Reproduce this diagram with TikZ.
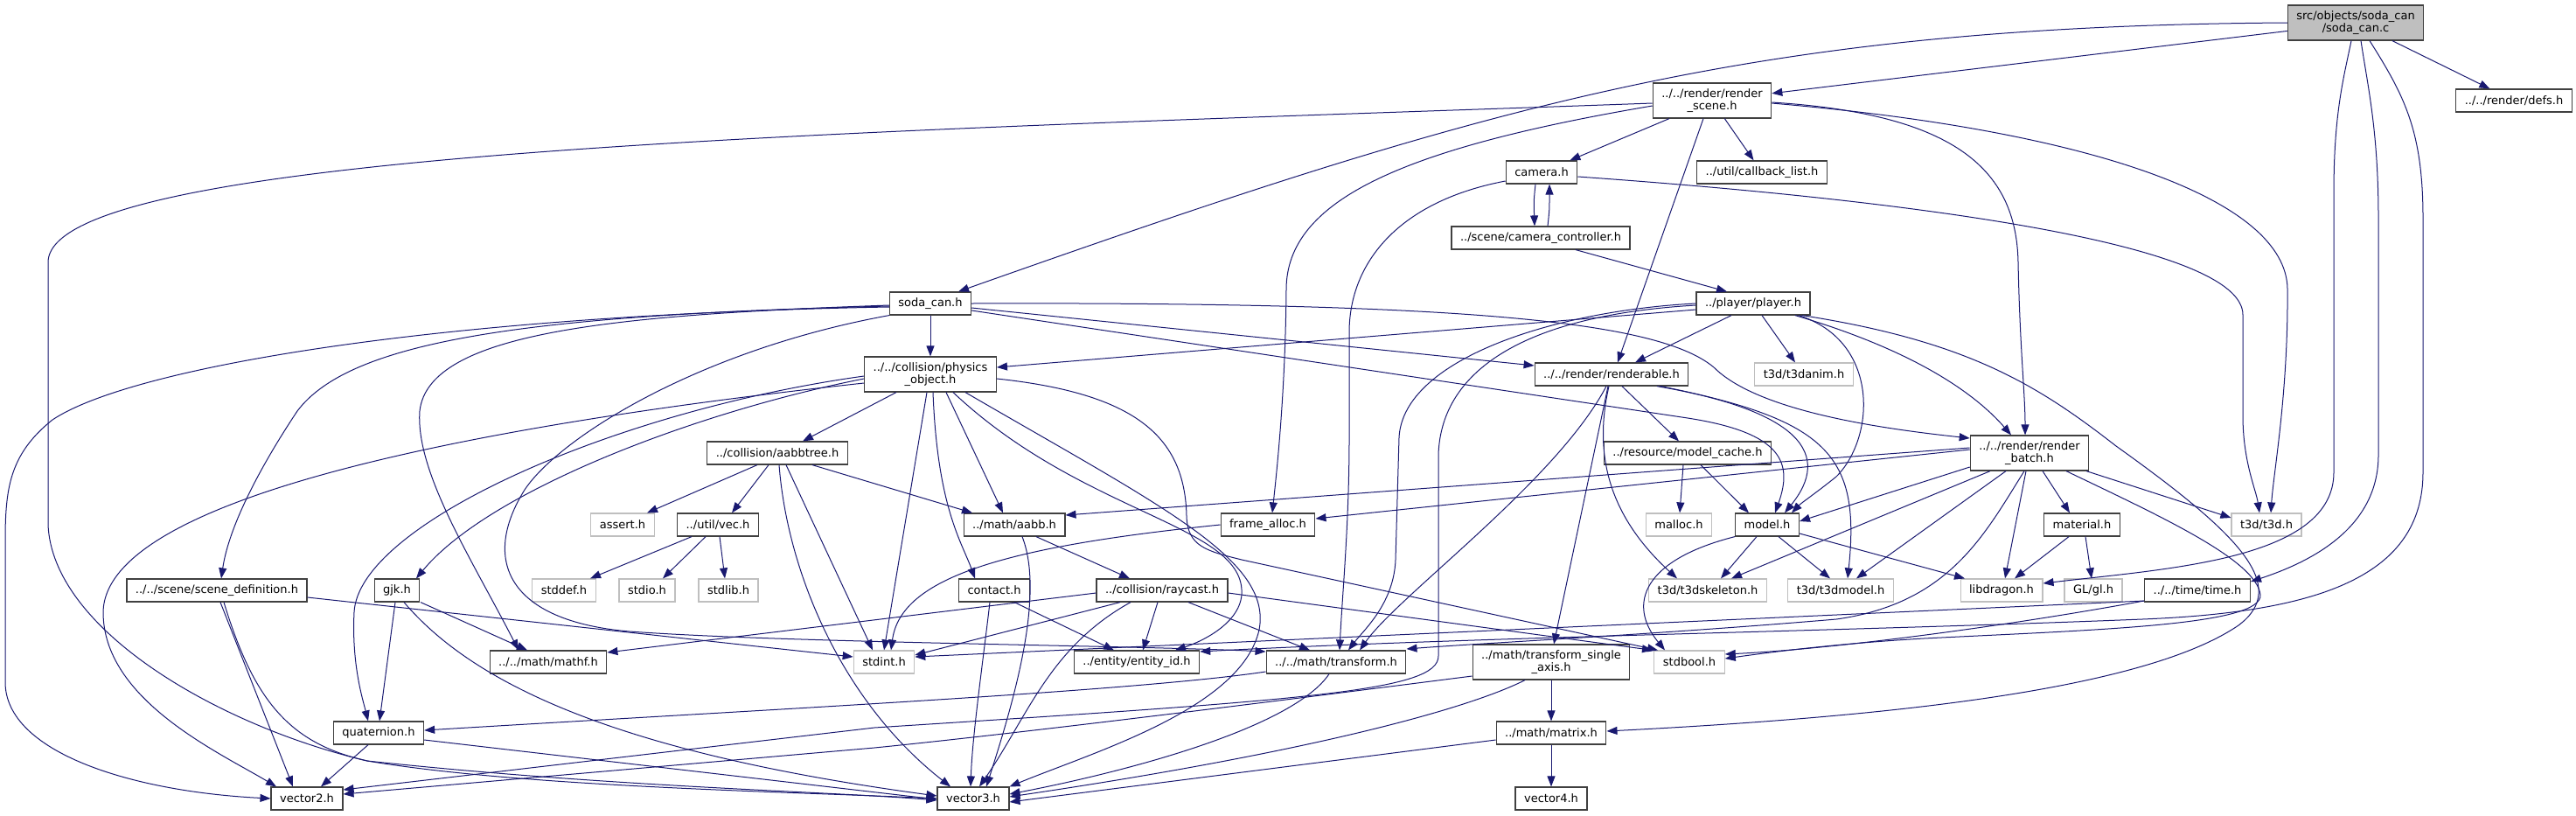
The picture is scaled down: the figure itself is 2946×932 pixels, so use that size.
\documentclass[tikz,border=0pt]{standalone}
\usepackage{fontspec}
\setmainfont{DejaVu Sans}
\usetikzlibrary{arrows.meta,positioning}
\definecolor{inclblue}{RGB}{25,25,112}
\definecolor{boxline}{RGB}{64,64,64}
\definecolor{sysline}{RGB}{191,191,191}
\definecolor{rootfill}{RGB}{191,191,191}

\begin{document}
\begin{tikzpicture}[x=1pt,y=-1pt,
  hdr/.style={draw=boxline, fill=white, line width=1.2pt, minimum height=26pt, inner xsep=10pt, inner ysep=0pt, align=center, font=\fontsize{13}{14.5}\selectfont},
  hdrtwo/.style={hdr, minimum height=40pt},
  sys/.style={hdr, draw=sysline},
  incl/.style={draw=inclblue, line width=1pt, -{Triangle[length=12pt,width=9pt]}}]
\useasboundingbox (0,0) rectangle (2946,932);

\node[hdrtwo, fill=rootfill] (root) at (2694,26) {src/objects/soda\_can\\/soda\_can.c};
\node[hdrtwo] (scene) at (1958,115) {../../render/render\\\_scene.h};
\node[hdr] (defs) at (2875,115) {../../render/defs.h};
\node[hdr] (cblist) at (2015,197) {../util/callback\_list.h};
\node[hdr] (camera) at (1763,197) {camera.h};
\node[hdr] (camctl) at (1762,272) {../scene/camera\_controller.h};
\node[hdr] (player) at (2005,347) {../player/player.h};
\node[sys] (anim) at (2063,428) {t3d/t3danim.h};
\node[hdr] (sodah) at (1064,347) {soda\_can.h};
\node[hdrtwo] (physobj) at (1064,428) {../../collision/physics\\\_object.h};
\node[hdr] (renderable) at (1843,428) {../../render/renderable.h};
\node[hdrtwo] (batch) at (2321,518) {../../render/render\\\_batch.h};
\node[hdr] (mcache) at (1930,518) {../resource/model\_cache.h};
\node[hdr] (aabbtree) at (889,518) {../collision/aabbtree.h};
\node[sys] (assert) at (712,600) {assert.h};
\node[hdr] (vec) at (821,600) {../util/vec.h};
\node[hdr] (aabb) at (1160,600) {../math/aabb.h};
\node[hdr] (falloc) at (1450,600) {frame\_alloc.h};
\node[sys] (malloc) at (1920,600) {malloc.h};
\node[hdr] (model) at (2021,600) {model.h};
\node[hdr] (material) at (2381,600) {material.h};
\node[sys] (t3d) at (2592,600) {t3d/t3d.h};
\node[hdr] (scenedef) at (248,675) {../../scene/scene\_definition.h};
\node[hdr] (gjk) at (454,675) {gjk.h};
\node[sys] (stddef) at (645,675) {stddef.h};
\node[sys] (stdio) at (740,675) {stdio.h};
\node[sys] (stdlib) at (833,675) {stdlib.h};
\node[hdr] (contact) at (1137,675) {contact.h};
\node[hdr] (raycast) at (1329,675) {../collision/raycast.h};
\node[sys] (skeleton) at (1953,675) {t3d/t3dskeleton.h};
\node[sys] (t3dmodel) at (2105,675) {t3d/t3dmodel.h};
\node[sys] (libdragon) at (2289,675) {libdragon.h};
\node[sys] (gl) at (2394,675) {GL/gl.h};
\node[hdr] (time) at (2513,675) {../../time/time.h};
\node[hdr] (mathf) at (627,757) {../../math/mathf.h};
\node[sys] (stdint) at (1011,757) {stdint.h};
\node[hdr] (entity) at (1300,757) {../entity/entity\_id.h};
\node[hdr] (transform) at (1528,757) {../../math/transform.h};
\node[hdrtwo] (single) at (1774,757) {../math/transform\_single\\\_axis.h};
\node[sys] (stdbool) at (1932,757) {stdbool.h};
\node[hdr] (quat) at (433,838) {quaternion.h};
\node[hdr] (matrix) at (1774,838) {../math/matrix.h};
\node[hdr] (vec2) at (351,913) {vector2.h};
\node[hdr] (vec3) at (1113,913) {vector3.h};
\node[hdr] (vec4) at (1774,913) {vector4.h};

\draw[incl] (root) -- (scene);
\draw[incl] (root) -- (defs);
\draw[incl] (root.west) .. controls (2000,30) and (1700,120) .. ([xshift=32pt]sodah.north);
\draw[incl] ([xshift=-5pt]root.south) .. controls (2680,90) and (2669,130) .. (2669,220) -- (2669,540) .. controls (2669,640) and (2480,650) .. ([yshift=8pt]libdragon.east);
\draw[incl] ([xshift=6pt]root.south) .. controls (2708,100) and (2720,150) .. (2720,250) -- (2720,520) .. controls (2720,600) and (2650,640) .. ([yshift=10pt]time.east);
\draw[incl] ([xshift=16pt]root.south) .. controls (2750,110) and (2771,150) .. (2771,250) -- (2771,540) .. controls (2771,660) and (2650,700) .. (2450,708) .. controls (2100,722) and (1700,728) .. ([yshift=12pt]entity.east);

\draw[incl] (scene) -- (camera);
\draw[incl] (scene) -- (cblist);
\draw[incl] ([xshift=-10pt]scene.south) -- ([xshift=7pt]renderable.north);
\draw[incl] ([yshift=-2pt]scene.east) .. controls (2230,130) and (2306,190) .. (2308,300) .. controls (2310,400) and (2316,450) .. ([xshift=-5pt]batch.north);
\draw[incl] ([yshift=-3pt]scene.east) .. controls (2400,150) and (2614,230) .. (2616,330) .. controls (2617,450) and (2600,540) .. ([xshift=5pt]t3d.north);
\draw[incl] ([yshift=-6pt]scene.west) .. controls (1600,170) and (1472,230) .. (1471,330) .. controls (1470,450) and (1460,540) .. ([xshift=5pt]falloc.north);
\draw[incl] ([yshift=-3pt]scene.west) .. controls (1000,150) and (55,170) .. (55,300) -- (55,600) .. controls (60,720) and (250,830) .. (420,870) .. controls (600,900) and (900,905) .. (vec3.west);

\draw[incl] ([xshift=-7pt]camera.south) .. controls (1754,230) .. ([xshift=-7pt]camctl.north);
\draw[incl] ([xshift=8pt]camctl.north) .. controls (1772,240) .. ([xshift=9pt]camera.south);
\draw[incl] ([yshift=-10pt]camera.west) .. controls (1600,230) and (1543,300) .. (1543,380) -- (1543,500) .. controls (1543,600) and (1535,680) .. ([xshift=4pt]transform.north);
\draw[incl] ([yshift=-5pt]camera.east) .. controls (2200,230) and (2565,280) .. (2565,360) -- (2565,480) .. controls (2566,530) and (2580,560) .. ([xshift=-8pt]t3d.north);
\draw[incl] ([xshift=40pt]camctl.south) -- ([xshift=-30pt]player.north);

\draw[incl] (sodah) -- (physobj);
\draw[incl] ([yshift=-5pt]sodah.east) -- ([yshift=10pt]renderable.west);
\draw[incl] ([yshift=-8pt]sodah.east) -- (1930,478) .. controls (2040,495) and (2050,530) .. ([xshift=9pt]model.north);
\draw[incl] (sodah.east) .. controls (1700,345) and (1900,370) .. (1960,420) .. controls (2010,470) and (2150,490) .. ([yshift=17pt]batch.west);
\draw[incl] ([yshift=-3pt]sodah.west) .. controls (600,360) and (400,390) .. (340,470) .. controls (300,530) and (262,600) .. ([xshift=5pt]scenedef.north);
\draw[incl] ([yshift=-2pt]sodah.west) .. controls (700,360) and (490,380) .. (480,470) .. controls (475,540) and (540,640) .. ([xshift=-34pt]mathf.north);
\draw[incl] ([yshift=-4pt]sodah.west) .. controls (500,360) and (150,420) .. (60,480) .. controls (10,520) and (6,560) .. (6,620) -- (6,780) .. controls (6,860) and (150,905) .. (vec2.west);
\draw[incl] (sodah.south west) .. controls (800,400) and (640,500) .. (600,560) .. controls (550,640) and (580,710) .. (720,722) .. controls (900,735) and (1300,738) .. ([yshift=12pt]transform.west);

\draw[incl] ([xshift=-39pt]physobj.south) -- ([xshift=29pt]aabbtree.north);
\draw[incl] ([yshift=-5pt]physobj.west) .. controls (800,470) and (560,560) .. ([xshift=22pt]gjk.north);
\draw[incl] ([yshift=-2pt]physobj.west) .. controls (700,470) and (410,600) .. (405,700) .. controls (402,760) and (415,800) .. ([xshift=-12pt]quat.north);
\draw[incl] ([yshift=-10pt]physobj.west) .. controls (600,480) and (120,560) .. (118,700) .. controls (118,800) and (250,860) .. ([xshift=-35pt]vec2.north);
\draw[incl] ([xshift=-4pt]physobj.south) -- (stdint.north);
\draw[incl] ([xshift=3pt]physobj.south) .. controls (1072,580) and (1100,620) .. ([xshift=-22pt]contact.north);
\draw[incl] ([xshift=18pt]physobj.south) -- ([xshift=-13pt]aabb.north);
\draw[incl] ([xshift=26pt]physobj.south) .. controls (1240,590) and (1425,600) .. (1420,680) .. controls (1417,715) and (1370,735) .. ([xshift=44pt]entity.north);
\draw[incl] ([xshift=40pt]physobj.south) .. controls (1330,580) and (1455,640) .. (1440,720) .. controls (1420,810) and (1250,860) .. (vec3.north east);
\draw[incl] ([yshift=-5pt]physobj.east) .. controls (1300,450) and (1355,500) .. (1357,590) .. controls (1358,625) and (1380,630) .. (1420,640) -- ([xshift=-36pt]stdbool.north);

\draw[incl] ([xshift=12pt]renderable.south) -- ([xshift=-10pt]mcache.north);
\draw[incl] ([xshift=-6pt]renderable.south) .. controls (1780,550) and (1600,680) .. ([xshift=27pt]transform.north);
\draw[incl] ([xshift=-4pt]renderable.south) -- ([xshift=3pt]single.north);
\draw[incl] ([xshift=-3pt]renderable.south) .. controls (1822,520) and (1840,590) .. ([xshift=-35pt]skeleton.north);
\draw[incl] ([xshift=52pt]renderable.south) .. controls (2060,470) and (2095,520) .. ([xshift=20pt]model.north);
\draw[incl] ([xshift=56pt]renderable.south) .. controls (2090,480) and (2128,520) .. ([xshift=8pt]t3dmodel.north);

\draw[incl] ([xshift=-25pt]player.south) -- ([xshift=27pt]renderable.north);
\draw[incl] ([xshift=10pt]player.south) -- ([xshift=-10pt]anim.north);
\draw[incl] ([yshift=-7pt]player.west) -- ([yshift=8pt]physobj.east);
\draw[incl] ([xshift=48pt]player.south) .. controls (2170,395) and (2250,440) .. ([xshift=-21pt]batch.north);
\draw[incl] ([xshift=52pt]player.south) .. controls (2150,390) and (2145,500) .. (2100,545) .. controls (2075,565) and (2060,575) .. ([xshift=28pt]model.north);
\draw[incl] (player.west) .. controls (1780,355) and (1605,410) .. (1600,500) -- (1596,640) .. controls (1594,690) and (1560,720) .. ([xshift=14pt]transform.north);
\draw[incl] ([yshift=-2pt]player.west) .. controls (1750,360) and (1648,420) .. (1645,520) -- (1645,750) .. controls (1645,790) and (1500,800) .. (1000,832) -- ([yshift=10pt]vec2.east);
\draw[incl] ([xshift=56pt]player.south) .. controls (2250,390) and (2330,440) .. (2420,510) .. controls (2560,610) and (2620,670) .. (2560,715) .. controls (2450,790) and (2150,820) .. ([yshift=2pt]matrix.east);

\draw[incl] ([yshift=-16pt]batch.west) -- ([yshift=4pt]model.east);
\draw[incl] ([yshift=4pt]batch.west) -- ([yshift=7pt]falloc.east);
\draw[incl] ([yshift=6pt]batch.west) -- ([yshift=11pt]aabb.east);
\draw[incl] ([xshift=-45pt]batch.south) -- ([xshift=27pt]skeleton.north);
\draw[incl] ([xshift=-27pt]batch.south) -- ([xshift=18pt]t3dmodel.north);
\draw[incl] ([xshift=-4pt]batch.south) -- ([xshift=4pt]libdragon.north);
\draw[incl] ([xshift=15pt]batch.south) -- ([xshift=-14pt]material.north);
\draw[incl] ([xshift=65pt]batch.south) -- ([yshift=8pt]t3d.west);
\draw[incl] ([xshift=-6pt]batch.south) .. controls (2270,610) and (2230,690) .. (2100,708) .. controls (1900,725) and (1700,735) .. ([yshift=15pt]transform.east);
\draw[incl] ([xshift=42pt]batch.south) .. controls (2470,590) and (2580,640) .. (2585,680) .. controls (2588,715) and (2400,720) .. (2200,730) .. controls (2100,736) and (2030,745) .. ([yshift=4pt]stdbool.east);

\draw[incl] ([yshift=-12pt]time.west) .. controls (2300,715) and (2100,742) .. ([yshift=9pt]stdbool.east);
\draw[incl] ([yshift=-12pt]time.west) -- ([yshift=6pt]stdint.east);

\draw[incl] ([xshift=-12pt]model.south) -- ([xshift=15pt]skeleton.north);
\draw[incl] ([xshift=13pt]model.south) -- ([xshift=-12pt]t3dmodel.north);
\draw[incl] ([yshift=-10pt]model.east) -- ([xshift=-42pt]libdragon.north);
\draw[incl] (model.south west) .. controls (1880,640) and (1860,690) .. ([xshift=-28pt]stdbool.north);
\draw[incl] ([xshift=-5pt]mcache.south) -- ([xshift=1pt]malloc.north);
\draw[incl] ([xshift=15pt]mcache.south) -- ([xshift=-21pt]model.north);
\draw[incl] ([xshift=-15pt]material.south) -- ([xshift=15pt]libdragon.north);
\draw[incl] ([xshift=4pt]material.south) -- ([xshift=-2pt]gl.north);

\draw[incl] ([xshift=-23pt]aabbtree.south) -- ([xshift=28pt]assert.north);
\draw[incl] ([xshift=-10pt]aabbtree.south) -- ([xshift=16pt]vec.north);
\draw[incl] ([xshift=40pt]aabbtree.south) -- ([xshift=-48pt]aabb.north);
\draw[incl] ([xshift=10pt]aabbtree.south) -- ([xshift=-13pt]stdint.north);
\draw[incl] ([xshift=2pt]aabbtree.south) .. controls (900,650) and (960,800) .. ([xshift=-26pt]vec3.north);
\draw[incl] ([xshift=-30pt]vec.south) -- ([xshift=30pt]stddef.north);
\draw[incl] ([xshift=-14pt]vec.south) -- ([xshift=18pt]stdio.north);
\draw[incl] ([xshift=2pt]vec.south) -- ([xshift=-4pt]stdlib.north);
\draw[incl] ([xshift=25pt]aabb.south) -- ([xshift=-37pt]raycast.north);
\draw[incl] ([xshift=9pt]aabb.south) .. controls (1195,680) and (1160,800) .. ([xshift=15pt]vec3.north);
\draw[incl] (falloc.west) .. controls (1150,625) and (1030,660) .. ([xshift=8pt]stdint.north);

\draw[incl] ([xshift=-5pt]contact.south) .. controls (1125,750) and (1112,840) .. ([xshift=-3pt]vec3.north);
\draw[incl] ([xshift=23pt]contact.south) -- ([xshift=-26pt]entity.north);
\draw[incl] ([yshift=-3pt]raycast.west) -- ([yshift=11pt]mathf.east);
\draw[incl] ([xshift=-48pt]raycast.south) -- ([yshift=8pt]stdint.east);
\draw[incl] ([xshift=-36pt]raycast.south) .. controls (1200,740) and (1175,820) .. ([xshift=7pt]vec3.north);
\draw[incl] ([xshift=-5pt]raycast.south) -- ([xshift=7pt]entity.north);
\draw[incl] ([xshift=30pt]raycast.south) -- ([xshift=-30pt]transform.north);
\draw[incl] ([yshift=-3pt]raycast.east) -- ([xshift=-42pt]stdbool.north);

\draw[incl] ([xshift=27pt]gjk.south) -- ([xshift=-24pt]mathf.north);
\draw[incl] ([xshift=-2pt]gjk.south) -- ([xshift=1pt]quat.north);
\draw[incl] ([xshift=8pt]gjk.south) .. controls (540,780) and (700,860) .. ([yshift=3pt]vec3.west);
\draw[incl] ([yshift=-8pt]scenedef.east) -- ([yshift=6pt]stdint.west);
\draw[incl] ([xshift=4pt]scenedef.south) -- ([xshift=-16pt]vec2.north);
\draw[incl] ([xshift=8pt]scenedef.south) .. controls (290,800) and (330,850) .. (420,870) .. controls (700,900) and (950,905) .. ([yshift=-2pt]vec3.west);
\draw[incl] ([xshift=-12pt]quat.south) -- ([xshift=16pt]vec2.north);
\draw[incl] ([yshift=-8pt]quat.east) -- ([yshift=-1pt]vec3.west);

\draw[incl] ([yshift=-11pt]transform.west) .. controls (1300,790) and (900,810) .. ([yshift=3pt]quat.east);
\draw[incl] ([xshift=-8pt]transform.south) .. controls (1480,830) and (1300,880) .. ([yshift=5pt]vec3.east);
\draw[incl] (single) -- (matrix);
\draw[incl] ([xshift=-30pt]single.south) .. controls (1680,810) and (1500,860) .. ([yshift=2pt]vec3.east);
\draw[incl] ([yshift=-16pt]single.west) .. controls (1550,790) and (1200,835) .. (1000,855) -- ([yshift=5pt]vec2.east);
\draw[incl] (matrix) -- (vec4);
\draw[incl] ([yshift=-8pt]matrix.west) -- ([yshift=-4pt]vec3.east);
\end{tikzpicture}
\end{document}
